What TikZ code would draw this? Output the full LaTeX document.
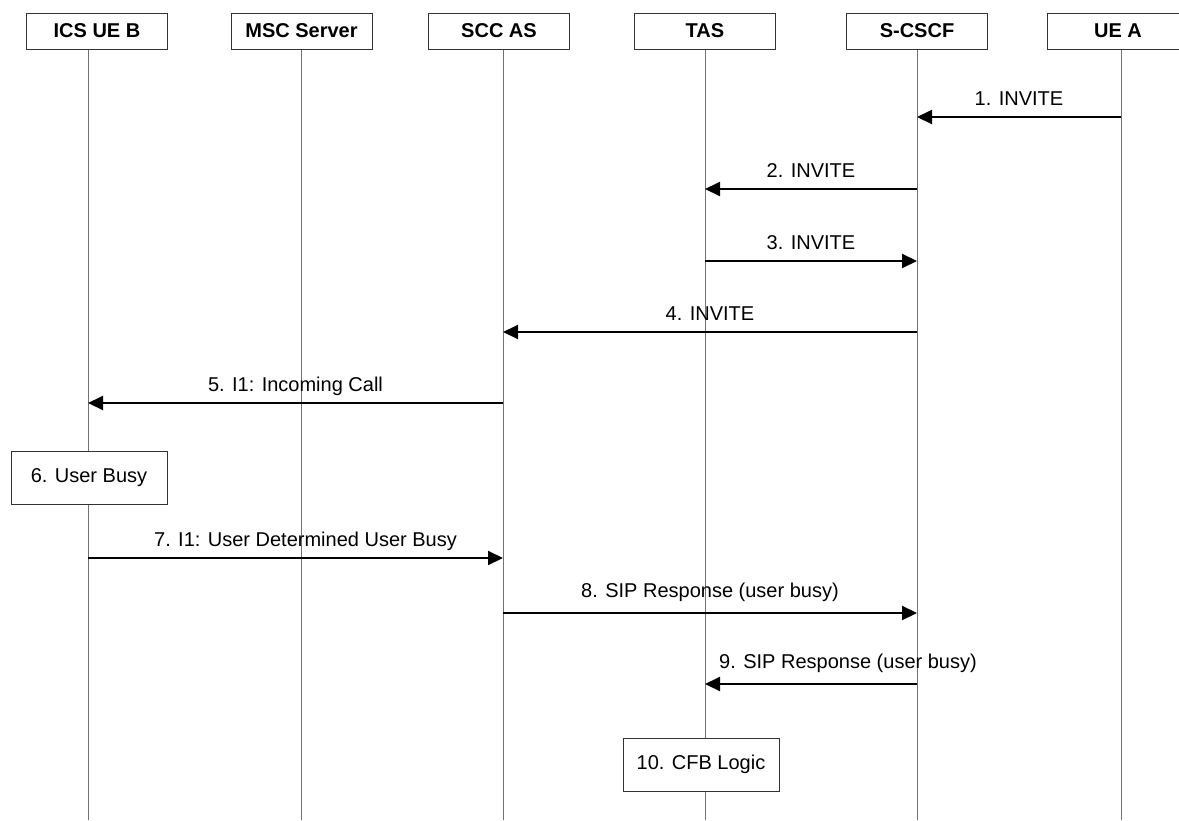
\documentclass[tikz,border=0pt]{standalone}
\usepackage{fontspec}
\setmainfont{Liberation Sans}
\usetikzlibrary{arrows.meta}

\begin{document}
\begin{tikzpicture}[x=0.5pt, y=-0.5pt, font=\fontsize{10}{12}\selectfont,
    actor/.style={draw=black!80, fill=white, minimum width=70.5pt, minimum height=18pt, inner sep=0pt, font=\fontsize{10}{12}\selectfont\bfseries},
    act/.style={draw=black!80, fill=white, minimum width=78pt, minimum height=26.5pt, inner sep=0pt},
    life/.style={draw=black!55, line width=0.5pt},
    msg/.style={draw, line width=1pt, -{Triangle[length=7.5pt, width=7pt]}},
    lbl/.style={anchor=base, yshift=6pt}]
    \useasboundingbox (0,0) rectangle (1179,820);

    \coordinate (icsB) at (88,49);
    \coordinate (msc) at (301,49);
    \coordinate (scc) at (503,49);
    \coordinate (tas) at (705,49);
    \coordinate (cscf) at (917,49);
    \coordinate (ueA) at (1121,49);

    \foreach \l in {icsB, msc, scc, tas, cscf, ueA}
        \draw[life] (\l) -- (\l |- 0,820);

    \node[actor] (icsBbox) at (97,31) {ICS UE B};
    \node[actor] (mscbox) at (301.5,31) {MSC Server};
    \node[actor] (sccbox) at (499,31) {SCC AS};
    \node[actor] (tasbox) at (705,31) {TAS};
    \node[actor] (cscfbox) at (917,31) {S-CSCF};
    \node[actor] (ueAbox) at (1118,31) {UE A};

    \path (ueA |- 0,117) edge[msg] node[lbl] {1. INVITE} (cscf |- 0,117);
    \path (cscf |- 0,189) edge[msg] node[lbl] {2. INVITE} (tas |- 0,189);
    \path (tas |- 0,261) edge[msg] node[lbl] {3. INVITE} (cscf |- 0,261);
    \path (cscf |- 0,332) edge[msg] node[lbl] {4. INVITE} (scc |- 0,332);
    \path (scc |- 0,403) edge[msg] node[lbl] {5. I1: Incoming Call} (icsB |- 0,403);

    \node[act] (busy) at (89,478) {6. User Busy};

    \path (icsB |- 0,558) edge[msg] node[lbl, xshift=5pt] {7. I1: User Determined User Busy} (scc |- 0,558);
    \path (scc |- 0,613) edge[msg] node[lbl, yshift=2pt] {8. SIP Response (user busy)} (cscf |- 0,613);
    \path (cscf |- 0,684) edge[msg] node[lbl, xshift=18.5pt, yshift=2pt] {9. SIP Response (user busy)} (tas |- 0,684);

    \node[act] (cfb) at (701,764.5) {10. CFB Logic};
\end{tikzpicture}
\end{document}
